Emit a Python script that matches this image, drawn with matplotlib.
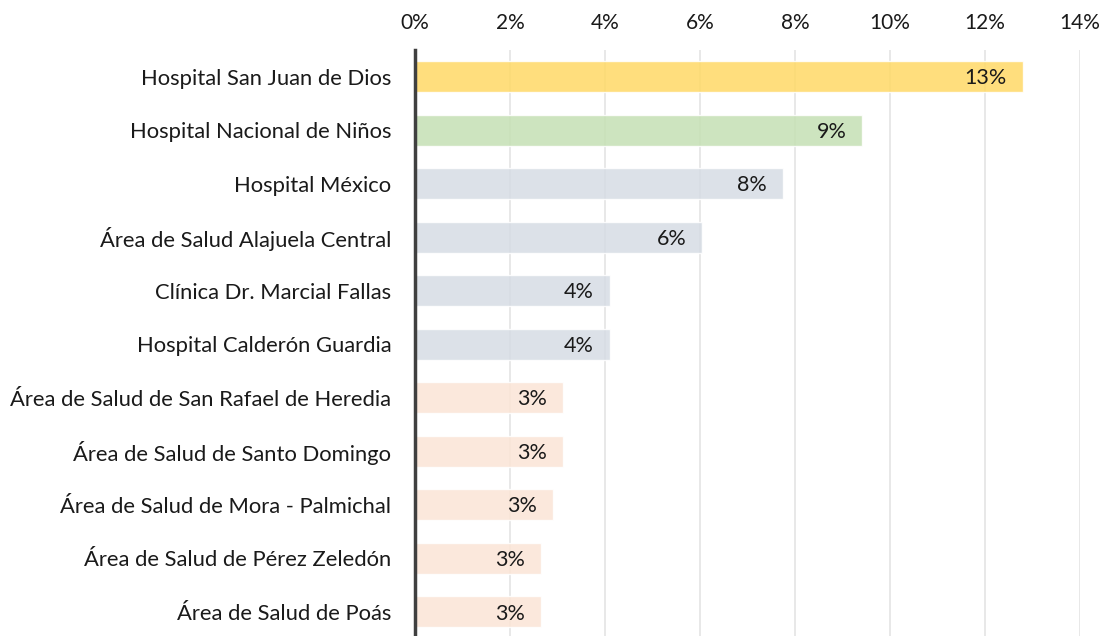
import matplotlib.pyplot as plt
import numpy as np

# datos (porcentaje)
centros = [
    'Hospital San Juan de Dios',
    'Hospital Nacional de Niños',
    'Hospital México',
    'Área de Salud Alajuela Central',
    'Clínica Dr. Marcial Fallas',
    'Hospital Calderón Guardia',
    'Área de Salud de San Rafael de Heredia',
    'Área de Salud de Santo Domingo',
    'Área de Salud de Mora - Palmichal',
    'Área de Salud de Pérez Zeledón',
    'Área de Salud de Poás',
]
porcentajes = [12.8, 9.42, 7.75, 6.05, 4.1, 4.1, 3.12, 3.12, 2.9, 2.65, 2.65]
grupos = ['top', 'second', 'mid', 'mid', 'mid', 'mid', 'low', 'low', 'low', 'low', 'low']
ticks = [0, 2, 4, 6, 8, 10, 12, 14]

colores = {'top': '#FFD966', 'second': '#C5E0B4', 'mid': '#D6DCE4', 'low': '#FBE5D6'}

plt.rcParams['font.family'] = ['Lato', 'DejaVu Sans']

fig = plt.figure(figsize=(11.03, 6.36), dpi=100)
ax = fig.add_axes([415 / 1103, 0.0, 665 / 1103, 1 - 50 / 636])

y = np.arange(len(centros))
ax.barh(y, porcentajes, height=0.58, color=[colores[g] for g in grupos],
        alpha=0.85, edgecolor=(1, 1, 1, 0.5), linewidth=1, zorder=2)

for yi, v in zip(y, porcentajes):
    ax.text(v - 0.34, yi + 0.03, f'{round(v):.0f}%', ha='right', va='center',
            fontsize=15.5, color='#1a1a1a', zorder=3)

ax.set_xlim(0, 14)
ax.set_ylim(10.45, -0.5)
ax.set_yticks(y)
ax.set_yticklabels(centros, fontsize=15.8, color='#1a1a1a')
ax.set_xticks(ticks)
ax.set_xticklabels([f'{t}%' for t in ticks], fontsize=15, color='#1a1a1a')
ax.xaxis.tick_top()
ax.tick_params(axis='both', length=0)
ax.tick_params(axis='x', pad=12)
ax.tick_params(axis='y', pad=17)

ax.grid(axis='x', color='#E6E6E6', linewidth=1.3, zorder=0)
ax.set_axisbelow(True)
for s in ['top', 'right', 'bottom']:
    ax.spines[s].set_visible(False)
ax.spines['left'].set_color('#404040')
ax.spines['left'].set_linewidth(2.5)
ax.spines['left'].set_zorder(4)

fig.savefig('out.png', dpi=100)
